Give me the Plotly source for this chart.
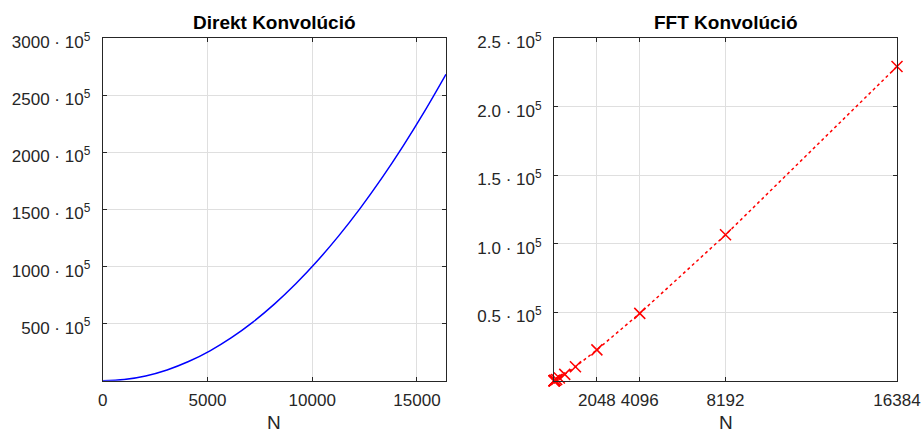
import plotly.graph_objects as go

# Direct convolution: operation count vs. N
direct_n = [0, 1024, 2048, 3072, 4096, 5120, 6144, 7168, 8192,
            9216, 10240, 11264, 12288, 13312, 14336, 15360, 16384]
direct_ops = [0, 1048576, 4194304, 9437184, 16777216, 26214400, 37748736,
              51380224, 67108864, 84934656, 104857600, 126877696, 150994944,
              177209344, 205520896, 235929600, 268435456]

# FFT convolution: operation count at powers of two
fft_n = [1, 2, 4, 8, 16, 32, 64, 128, 256, 512, 1024, 2048, 4096, 8192, 16384]
fft_ops = [0, 2, 8, 24, 64, 160, 384, 896, 2048, 4608, 10240, 22528,
           49152, 106496, 229376]

left_yticks = [5e7, 1e8, 1.5e8, 2e8, 2.5e8, 3e8]
left_ylabels = ["500 · 10<sup>5</sup>", "1000 · 10<sup>5</sup>",
                "1500 · 10<sup>5</sup>", "2000 · 10<sup>5</sup>",
                "2500 · 10<sup>5</sup>", "3000 · 10<sup>5</sup>"]
left_xticks = [0, 5000, 10000, 15000]

right_yticks = [0.5e5, 1.0e5, 1.5e5, 2.0e5, 2.5e5]
right_ylabels = ["0.5 · 10<sup>5</sup>", "1.0 · 10<sup>5</sup>",
                 "1.5 · 10<sup>5</sup>", "2.0 · 10<sup>5</sup>",
                 "2.5 · 10<sup>5</sup>"]
right_xticks = [2048, 4096, 8192, 16384]

FONT = "Liberation Sans, Arial, sans-serif"
AX = "#262626"
GRID = "#dfdfdf"

fig = go.Figure()
fig.add_trace(go.Scatter(
    x=direct_n, y=direct_ops, mode="lines", line_shape="spline",
    line=dict(color="#0000ff", width=1.5), xaxis="x", yaxis="y",
    showlegend=False))
fig.add_trace(go.Scatter(
    x=fft_n, y=fft_ops, mode="lines+markers",
    line=dict(color="#ff0000", width=1.5, dash="dot"),
    marker=dict(symbol="x-thin", size=11,
                line=dict(color="#ff0000", width=1.5)),
    cliponaxis=False, xaxis="x2", yaxis="y2", showlegend=False))

axis_common = dict(showline=True, linecolor=AX, linewidth=1, mirror="ticks",
                   ticks="inside", ticklen=4, tickcolor=AX, tickwidth=1,
                   showgrid=True, gridcolor=GRID, gridwidth=1,
                   zeroline=False, automargin=False,
                   tickfont=dict(family=FONT, size=17, color=AX))

ydom = [0.1248, 0.912]
fig.update_layout(
    width=922, height=435,
    margin=dict(l=0, r=0, t=0, b=0, autoexpand=False),
    paper_bgcolor="white", plot_bgcolor="white",
    xaxis=dict(domain=[0.1114, 0.4837], range=[0, 16384],
               tickmode="array", tickvals=left_xticks,
               ticktext=[str(v) for v in left_xticks],
               ticklabelstandoff=4, anchor="y", **axis_common),
    yaxis=dict(domain=ydom, range=[0, 3e8], tickmode="array",
               tickvals=left_yticks, ticktext=left_ylabels,
               ticklabelstandoff=8, ticklabelshift=4, anchor="x",
               **axis_common),
    xaxis2=dict(domain=[0.6009, 0.9729], range=[0, 16384],
                tickmode="array", tickvals=right_xticks,
                ticktext=[str(v) for v in right_xticks],
                ticklabelstandoff=4, anchor="y2", **axis_common),
    yaxis2=dict(domain=ydom, range=[0, 2.5e5], tickmode="array",
                tickvals=right_yticks, ticktext=right_ylabels,
                ticklabelstandoff=8, ticklabelshift=4, anchor="x2",
                **axis_common),
    annotations=[
        dict(text="<b>Direkt Konvolúció</b>", x=0.2975, y=0.949,
             xref="paper", yref="paper", xanchor="center", yanchor="middle",
             showarrow=False, font=dict(family=FONT, size=19, color="black")),
        dict(text="<b>FFT Konvolúció</b>", x=0.7869, y=0.949,
             xref="paper", yref="paper", xanchor="center", yanchor="middle",
             showarrow=False, font=dict(family=FONT, size=19, color="black")),
        dict(text="N", x=0.2975, y=0, xref="paper", yref="paper",
             xanchor="center", yanchor="bottom", showarrow=False,
             font=dict(family=FONT, size=19, color=AX)),
        dict(text="N", x=0.7869, y=0, xref="paper", yref="paper",
             xanchor="center", yanchor="bottom", showarrow=False,
             font=dict(family=FONT, size=19, color=AX)),
    ],
)

fig.write_html("out.html")
